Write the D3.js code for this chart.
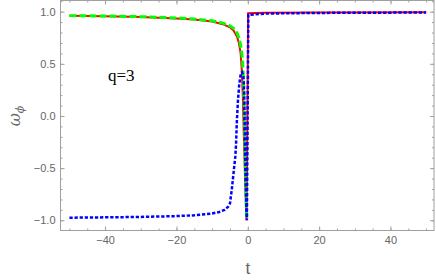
<!DOCTYPE html>
<html>
<head>
<meta charset="utf-8">
<script src="https://cdn.jsdelivr.net/npm/d3@7"></script>
<style>
  body { margin: 0; background: #fff; }
  svg { display: block; }
</style>
</head>
<body>
<div id="chart"></div>
<script>
// values
const redT = [-50, -40, -30, -20, -15, -10, -7, -5, -4, -3, -2.5, -2, -1.7, -1.4, -1.1, -0.8, -0.5, -0.35, -0.15, 0.1, 5, 20, 50]
const redW = [0.960, 0.955, 0.948, 0.935, 0.925, 0.905, 0.88, 0.85, 0.82, 0.76, 0.70, 0.60, 0.45, 0.2, -0.2, -0.55, -0.85, -1.0, -0.2, 0.985, 0.99, 0.993, 0.995]

const greenT = [-50, -40, -30, -20, -15, -10, -7, -5, -4, -3, -2.5, -2, -1.5, -1.2, -1, -0.8, -0.6, -0.4, -0.2]
const greenW = [0.962, 0.958, 0.952, 0.94, 0.93, 0.912, 0.89, 0.865, 0.84, 0.795, 0.75, 0.68, 0.55, 0.35, 0.1, -0.3, -0.65, -0.9, -1.0]

const blueT = [-50, -40, -30, -20, -15, -10, -8, -6.5, -5.5, -5, -4.5, -4, -3.5, -3.3, -3.05, -2.75, -2.4, -1.95, -1.6, -1.2, -1.0, -0.8, -0.6, -0.4, -0.25, 0.15, 5, 20, 50]
const blueW = [-0.975, -0.972, -0.968, -0.96, -0.952, -0.935, -0.92, -0.90, -0.87, -0.84, -0.71, -0.55, -0.39, -0.28, -0.04, 0.15, 0.30, 0.41, 0.42, 0.37, 0.2, -0.2, -0.6, -0.9, -1.0, 0.97, 0.982, 0.988, 0.992]

const xMajor = [-40, -20, 0, 20, 40]
const xMinor = d3.range(-50, 50.1, 5)
const yMajor = [-1.0, -0.5, 0.0, 0.5, 1.0]
const yMinor = d3.range(-1.0, 1.11, 0.1)

const W = 436, H = 280
const mLeft = 60.5, mRight = 434, mTop = 0.5, mBottom = 230.5

const x = d3.scaleLinear().domain([-52.5, 52.2]).range([mLeft, mRight])
const y = d3.scaleLinear().domain([-1.098, 1.107]).range([mBottom, mTop])

const svg = d3.select("#chart").append("svg")
    .attr("width", W).attr("height", H)

const line = d3.line()
    .x(d => x(d[0]))
    .y(d => y(d[1]))

svg.append("clipPath").attr("id", "clip")
    .append("rect").attr("x", mLeft).attr("y", mTop)
    .attr("width", mRight - mLeft).attr("height", mBottom - mTop)

const plot = svg.append("g").attr("clip-path", "url(#clip)")

plot.append("path")
    .attr("d", line(d3.zip(redT, redW)))
    .attr("fill", "none").attr("stroke", "#ff0000")
    .attr("stroke-width", 2)

plot.append("path")
    .attr("d", line(d3.zip(greenT, greenW)))
    .attr("fill", "none").attr("stroke", "#00ff00")
    .attr("stroke-width", 3)
    .attr("stroke-dasharray", "7,3")

plot.append("path")
    .attr("d", line(d3.zip(blueT, blueW)))
    .attr("fill", "none").attr("stroke", "#0000ff")
    .attr("stroke-width", 2.5)
    .attr("stroke-dasharray", "3.3,1.8")

// frame with inward ticks
const frameColor = "#a0a0a0"
const labelColor = "#666"

function styleAxis(g) {
    g.select(".domain").remove()
    g.selectAll(".tick line").attr("stroke", frameColor)
    g.selectAll(".tick text").attr("fill", labelColor)
        .style("font-family", "Liberation Sans, Arial, sans-serif")
        .style("font-size", "11px")
}

svg.append("g").attr("transform", `translate(0,${mBottom})`)
    .call(d3.axisBottom(x).tickValues(xMinor).tickSizeInner(-2).tickFormat(""))
    .call(styleAxis)
svg.append("g").attr("transform", `translate(0,${mBottom})`)
    .call(d3.axisBottom(x).tickValues(xMajor).tickSizeInner(-4).tickPadding(6)
        .tickFormat(d => d < 0 ? "\u2212" + Math.abs(d) : d))
    .call(styleAxis)
svg.append("g").attr("transform", `translate(0,${mTop})`)
    .call(d3.axisTop(x).tickValues(xMinor).tickSizeInner(-2).tickFormat(""))
    .call(styleAxis)
svg.append("g").attr("transform", `translate(0,${mTop})`)
    .call(d3.axisTop(x).tickValues(xMajor).tickSizeInner(-4).tickFormat(""))
    .call(styleAxis)

svg.append("g").attr("transform", `translate(${mLeft},0)`)
    .call(d3.axisLeft(y).tickValues(yMinor).tickSizeInner(-2).tickFormat(""))
    .call(styleAxis)
svg.append("g").attr("transform", `translate(${mLeft},0)`)
    .call(d3.axisLeft(y).tickValues(yMajor).tickSizeInner(-4).tickPadding(5)
        .tickFormat(d => (d < 0 ? "\u2212" : "") + Math.abs(d).toFixed(1)))
    .call(styleAxis)
svg.append("g").attr("transform", `translate(${mRight},0)`)
    .call(d3.axisRight(y).tickValues(yMinor).tickSizeInner(-2).tickFormat(""))
    .call(styleAxis)
svg.append("g").attr("transform", `translate(${mRight},0)`)
    .call(d3.axisRight(y).tickValues(yMajor).tickSizeInner(-4).tickFormat(""))
    .call(styleAxis)

svg.append("rect")
    .attr("x", mLeft).attr("y", mTop)
    .attr("width", mRight - mLeft).attr("height", mBottom - mTop)
    .attr("fill", "none").attr("stroke", frameColor).attr("stroke-width", 1)

// axis labels
svg.append("text")
    .attr("x", x(0)).attr("y", 274)
    .attr("text-anchor", "middle")
    .attr("fill", labelColor)
    .style("font-family", "Liberation Sans, Arial, sans-serif")
    .style("font-size", "17px")
    .text("t")

const ylab = svg.append("text")
    .attr("transform", `translate(20,${y(0)}) rotate(-90)`)
    .attr("text-anchor", "middle")
    .attr("fill", labelColor)
    .style("font-family", "DejaVu Serif, serif")
    .style("font-style", "italic")
    .style("font-size", "16px")
ylab.append("tspan").text("\u03c9")
ylab.append("tspan").attr("dy", 4).style("font-size", "11px").text("\u03d5")

svg.append("text")
    .attr("x", 108).attr("y", 81)
    .attr("fill", "#000")
    .style("font-family", "Liberation Serif, Times New Roman, serif")
    .style("font-size", "17px")
    .text("q=3")
</script>
</body>
</html>
